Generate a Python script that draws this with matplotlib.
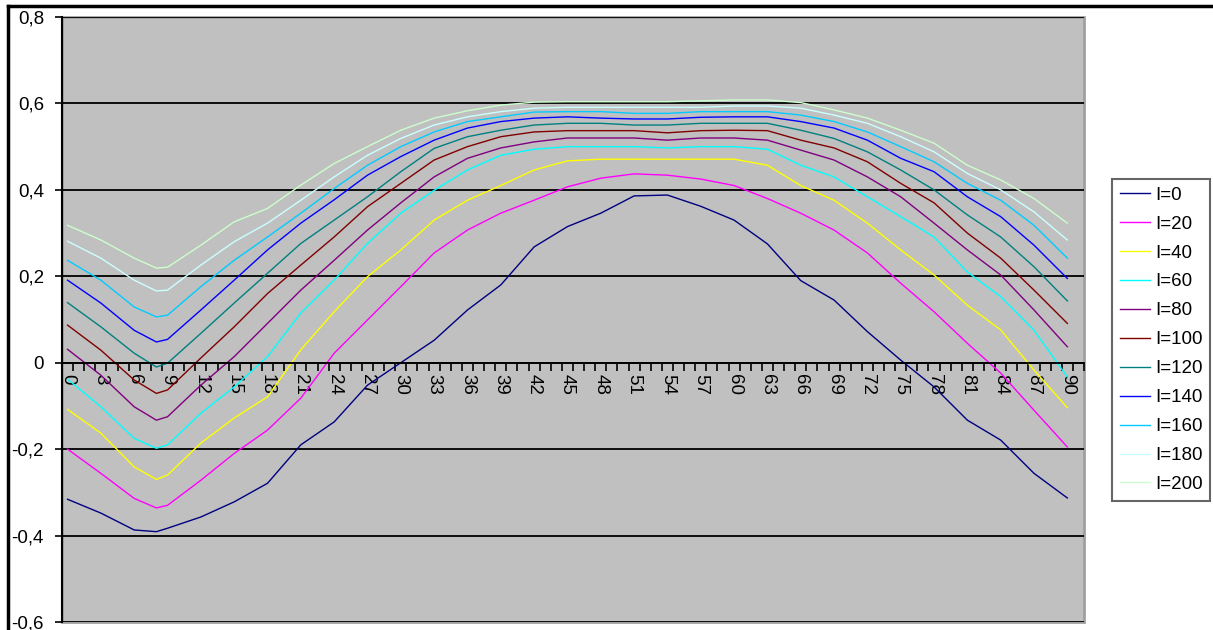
import numpy as np
import matplotlib
matplotlib.use('Agg')
import matplotlib.pyplot as plt
from matplotlib.lines import Line2D
from matplotlib.ticker import FixedLocator

plt.rcParams['font.family'] = ['Liberation Sans', 'DejaVu Sans']

# angle (deg) at which the curves were read
x = [0, 3, 6, 8, 9, 12, 15, 18, 21, 24, 27, 30, 33, 36, 39, 42, 45, 48, 51, 54,
     57, 60, 63, 66, 69, 72, 75, 78, 81, 84, 87, 90]

I0   = [-0.316, -0.348, -0.387, -0.391, -0.383, -0.357, -0.322, -0.279, -0.19, -0.137,
        -0.052, 0.0, 0.052, 0.122, 0.18, 0.268, 0.315, 0.346, 0.386, 0.388,
        0.362, 0.33, 0.275, 0.19, 0.145, 0.072, 0.006, -0.056, -0.133, -0.179, -0.256, -0.313]
I20  = [-0.2, -0.256, -0.314, -0.336, -0.33, -0.272, -0.21, -0.156, -0.082, 0.022,
        0.099, 0.176, 0.254, 0.307, 0.346, 0.376, 0.407, 0.427, 0.437, 0.434,
        0.425, 0.41, 0.38, 0.346, 0.307, 0.254, 0.184, 0.118, 0.045, -0.024, -0.11, -0.195]
I40  = [-0.108, -0.163, -0.241, -0.27, -0.26, -0.186, -0.128, -0.079, 0.03, 0.118,
        0.199, 0.261, 0.33, 0.376, 0.41, 0.446, 0.467, 0.471, 0.471, 0.471,
        0.471, 0.471, 0.457, 0.41, 0.376, 0.323, 0.261, 0.203, 0.133, 0.076, -0.017, -0.104]
I60  = [-0.038, -0.102, -0.175, -0.198, -0.19, -0.117, -0.056, 0.014, 0.115, 0.191,
        0.276, 0.346, 0.399, 0.446, 0.48, 0.494, 0.5, 0.5, 0.5, 0.497,
        0.5, 0.5, 0.494, 0.457, 0.43, 0.384, 0.338, 0.291, 0.21, 0.153, 0.075, -0.033]
I80  = [0.031, -0.029, -0.102, -0.133, -0.125, -0.052, 0.014, 0.091, 0.168, 0.237,
        0.307, 0.37, 0.43, 0.473, 0.497, 0.511, 0.52, 0.52, 0.52, 0.515,
        0.52, 0.52, 0.515, 0.492, 0.469, 0.43, 0.384, 0.323, 0.261, 0.203, 0.122, 0.037]
I100 = [0.087, 0.029, -0.04, -0.071, -0.063, 0.011, 0.083, 0.16, 0.226, 0.291,
        0.361, 0.415, 0.469, 0.5, 0.523, 0.534, 0.537, 0.537, 0.537, 0.532,
        0.537, 0.538, 0.537, 0.515, 0.497, 0.465, 0.415, 0.37, 0.3, 0.242, 0.168, 0.091]
I120 = [0.139, 0.083, 0.022, -0.01, -0.001, 0.068, 0.138, 0.207, 0.276, 0.33,
        0.384, 0.442, 0.496, 0.523, 0.538, 0.55, 0.554, 0.554, 0.55, 0.55,
        0.554, 0.554, 0.554, 0.538, 0.519, 0.488, 0.446, 0.4, 0.342, 0.291, 0.222, 0.143]
I140 = [0.191, 0.138, 0.075, 0.048, 0.054, 0.122, 0.191, 0.261, 0.323, 0.377,
        0.434, 0.477, 0.515, 0.543, 0.558, 0.566, 0.569, 0.566, 0.564, 0.564,
        0.568, 0.569, 0.569, 0.558, 0.543, 0.515, 0.473, 0.442, 0.384, 0.338, 0.272, 0.195]
I160 = [0.237, 0.191, 0.129, 0.106, 0.11, 0.176, 0.237, 0.291, 0.346, 0.403,
        0.457, 0.5, 0.534, 0.558, 0.569, 0.58, 0.581, 0.581, 0.577, 0.577,
        0.581, 0.581, 0.581, 0.573, 0.558, 0.534, 0.5, 0.465, 0.415, 0.376, 0.318, 0.242]
I180 = [0.281, 0.242, 0.191, 0.166, 0.168, 0.226, 0.28, 0.323, 0.376, 0.43,
        0.48, 0.519, 0.55, 0.569, 0.581, 0.589, 0.591, 0.591, 0.591, 0.591,
        0.591, 0.594, 0.594, 0.589, 0.573, 0.554, 0.523, 0.488, 0.438, 0.4, 0.349, 0.284]
I200 = [0.318, 0.284, 0.242, 0.219, 0.221, 0.272, 0.326, 0.357, 0.411, 0.461,
        0.5, 0.538, 0.566, 0.583, 0.596, 0.603, 0.604, 0.604, 0.604, 0.604,
        0.606, 0.608, 0.608, 0.602, 0.585, 0.566, 0.538, 0.508, 0.457, 0.423, 0.38, 0.323]

series = [I0, I20, I40, I60, I80, I100, I120, I140, I160, I180, I200]
labels = ['I=0', 'I=20', 'I=40', 'I=60', 'I=80', 'I=100', 'I=120', 'I=140', 'I=160', 'I=180', 'I=200']
colors = ['#000080', '#ff00ff', '#ffff00', '#00ffff', '#800080', '#800000',
          '#008080', '#0000ff', '#00ccff', '#ccffff', '#ccffcc']

xticks = list(range(0, 91, 3))
yticks = [-0.6, -0.4, -0.2, 0, 0.2, 0.4, 0.6, 0.8]
ylabels = ['-0,6', '-0,4', '-0,2', '0', '0,2', '0,4', '0,6', '0,8']

fig = plt.figure(figsize=(12.13, 6.3), dpi=100)
ax = fig.add_axes([62/1213, 8/630, 1022/1213, 605/630])
ax.set_facecolor('#c0c0c0')
ax.patch.set_edgecolor('#a0a0a0')
ax.patch.set_linewidth(2)

for s, lab, c in zip(series, labels, colors):
    ax.plot(x, s, '-', color=c, lw=1.0, label=lab)

ax.set_xlim(-0.5, 91.5)
ax.set_ylim(-0.6, 0.8)

ax.set_yticks(yticks)
ax.set_yticklabels(ylabels)
ax.yaxis.grid(True, color='black', lw=1.3)
ax.set_axisbelow(True)

ax.set_xticks(xticks)
ax.set_xticklabels([str(v) for v in xticks])
ax.xaxis.set_minor_locator(FixedLocator(np.arange(-0.5, 92, 1)))
ax.tick_params(axis='x', which='major', length=0, pad=8, labelsize=13.5, labelrotation=-90)
ax.tick_params(axis='x', which='minor', length=6, width=1.2, direction='out', color='black')
ax.tick_params(axis='y', length=5, width=1.2, pad=8, labelsize=13.5)
for t in ax.get_xticklabels():
    t.set_rotation(-90)

for side in ['top', 'right']:
    ax.spines[side].set_visible(False)
ax.spines['bottom'].set_position(('data', 0))
ax.spines['bottom'].set_linewidth(1.3)
ax.spines['left'].set_linewidth(1.5)

leg = ax.legend(loc='upper left', bbox_to_anchor=(1112/1213, 1 - 179/630),
                bbox_transform=fig.transFigure, borderaxespad=0, fontsize=13.5,
                frameon=True, fancybox=False, handlelength=1.6, handletextpad=0.3,
                labelspacing=0.63, borderpad=0.4)
leg.get_frame().set_edgecolor('#404040')
leg.get_frame().set_linewidth(1.5)

# chart area border (only top and left are visible in the crop)
fig.add_artist(Line2D([8/1213, 1], [1 - 5.5/630, 1 - 5.5/630], color='black', lw=2.5))
fig.add_artist(Line2D([8/1213, 8/1213], [0, 1 - 5.5/630], color='black', lw=2.5))

plt.savefig('out.png', dpi=100)
